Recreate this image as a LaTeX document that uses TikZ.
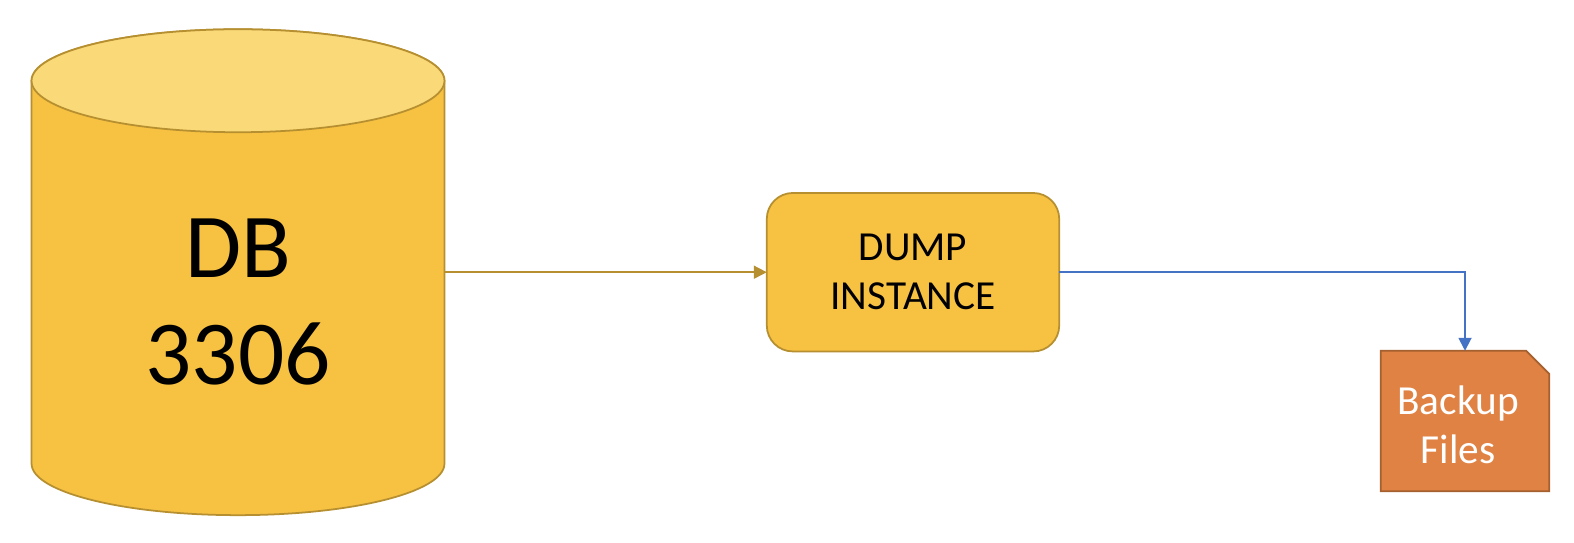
\documentclass[tikz,border=0pt]{standalone}
\usepackage{fontspec}
\setmainfont{Carlito}
\usetikzlibrary{arrows.meta,positioning}
\definecolor{dbgold}{HTML}{F7C142}
\definecolor{dbtop}{HTML}{FAD978}
\definecolor{dbline}{HTML}{B68F30}
\definecolor{bkporange}{HTML}{E08243}
\definecolor{bkpline}{HTML}{A5602F}
\definecolor{linkblue}{HTML}{4472C4}
\tikzset{
  dbcyl/.style={minimum width=8.26cm,minimum height=9.72cm,inner sep=0pt,outer sep=0pt},
  dbedge/.style={draw=dbline,line width=1pt},
  dblabel/.style={align=center,font=\fontsize{52}{61}\selectfont},
  dumpbox/.style={draw=dbline,fill=dbgold,line width=1pt,rounded corners=0.52cm,
    minimum width=5.85cm,minimum height=3.17cm,inner sep=0pt,outer sep=0pt,
    align=center,font=\fontsize{23.5}{28}\selectfont},
  bkpfile/.style={minimum width=3.37cm,minimum height=2.81cm,inner sep=0pt,outer sep=0pt},
  bkpedge/.style={draw=bkpline,fill=bkporange,line width=1pt},
  bkptext/.style={text=white,align=center,font=\fontsize{23.5}{28}\selectfont},
  link/.style={-{Triangle[length=0.26cm,width=0.26cm]},line width=1pt},
}
\begin{document}
\begin{tikzpicture}[x=0.02cm,y=-0.02cm]
\useasboundingbox (0,0) rectangle (1574,542);
\node[dbcyl] (db) at (238,272.2) {};
\draw[dbedge,fill=dbgold] ([yshift=-1.03cm]db.north west) -- ([yshift=1.03cm]db.south west)
  arc[start angle=180,end angle=360,x radius=4.13cm,y radius=1.03cm]
  -- ([yshift=-1.03cm]db.north east)
  arc[start angle=0,end angle=180,x radius=4.13cm,y radius=1.03cm] -- cycle;
\draw[dbedge,fill=dbtop] ([yshift=-1.03cm]db.north) ellipse [x radius=4.13cm,y radius=1.03cm];
\node[dblabel] (dbtext) at (238,302) {DB\\3306};
\node[dumpbox] (dump) at (913,272.2) {DUMP\\INSTANCE};
\node[bkpfile] (bkp) at (1465,421) {};
\draw[bkpedge] (bkp.south west) -- (bkp.north west) -- ([xshift=-0.46cm]bkp.north east)
  -- ([yshift=-0.46cm]bkp.north east) -- (bkp.south east) -- cycle;
\node[bkptext] (bkplabel) at (1458,425) {Backup\\Files};
\draw[link,dbline] (db.east) -- (dump.west);
\draw[link,linkblue] (dump.east) -| (bkp.north);
\end{tikzpicture}
\end{document}
